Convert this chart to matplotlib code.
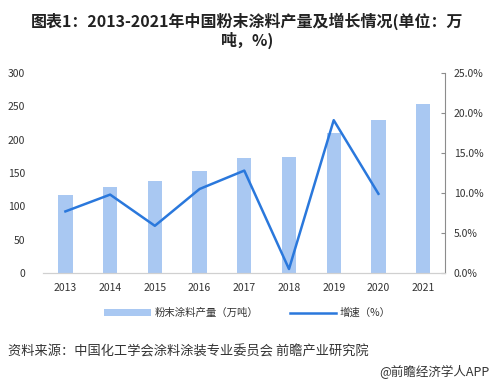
import matplotlib.pyplot as plt
from matplotlib.ticker import FuncFormatter

plt.rcParams['font.family'] = ['Noto Sans CJK SC', 'DejaVu Sans']

years = ['2013', '2014', '2015', '2016', '2017', '2018', '2019', '2020', '2021']
output = [117, 129, 138, 153, 172, 174, 210, 230, 253]
growth = [7.7, 9.8, 5.9, 10.5, 12.8, 0.5, 19.1, 9.9]

fig = plt.figure(figsize=(4.95, 3.84), dpi=100)
ax = fig.add_axes([0.087, 0.289, 0.813, 0.521])
ax2 = ax.twinx()

x = list(range(len(years)))
ax.bar(x, output, width=0.32, color='#a9c8f2', label='粉末涂料产量（万吨）', zorder=2)
ax2.plot(x[:len(growth)], growth, color='#2a78dc', lw=1.8, label='增速（%）', zorder=3)

ax.set_xlim(-0.5, len(years) - 0.5)
ax.set_ylim(0, 300)
ax.set_yticks(range(0, 301, 50))
ax2.set_ylim(0, 25)
ax2.set_yticks(range(0, 26, 5))
ax2.yaxis.set_major_formatter(FuncFormatter(lambda v, p: f'{v:.1f}%'))

ax.set_xticks(x)
ax.set_xticklabels(years)
for a in (ax, ax2):
    for s in ('top', 'left', 'right'):
        a.spines[s].set_visible(False)
    a.spines['bottom'].set_color('#d0d0d0')
ax2.spines['right'].set_visible(True)
ax2.spines['right'].set_color('#8c8c8c')
ax.tick_params(axis='y', length=0, labelsize=7.5, labelcolor='#333333', pad=13)
ax.tick_params(axis='x', length=0, labelsize=7.5, labelcolor='#333333', pad=7)
ax2.tick_params(axis='y', direction='in', length=3, color='#8c8c8c', labelsize=7.5,
                labelcolor='#333333', pad=6)

h1, l1 = ax.get_legend_handles_labels()
h2, l2 = ax2.get_legend_handles_labels()
fig.legend(h1 + h2, l1 + l2, loc='center', bbox_to_anchor=(0.5, 0.185), ncol=2,
           frameon=False, fontsize=7.5, handlelength=4.5, handleheight=0.6,
           columnspacing=3, handletextpad=0.3, labelcolor='#333333')

fig.text(0.5, 0.945, '图表1：2013-2021年中国粉末涂料产量及增长情况(单位：万', ha='center',
         va='center', fontsize=11.5, fontweight='bold', color='#222222')
fig.text(0.5, 0.895, '吨，%)', ha='center', va='center', fontsize=11.5,
         fontweight='bold', color='#222222')
fig.text(0.016, 0.083, '资料来源：中国化工学会涂料涂装专业委员会 前瞻产业研究院', ha='left',
         va='center', fontsize=9.5, color='#333333')
fig.text(0.988, 0.03, '@前瞻经济学人APP', ha='right', va='center', fontsize=9,
         color='#333333')

fig.savefig('out.png', dpi=100)
